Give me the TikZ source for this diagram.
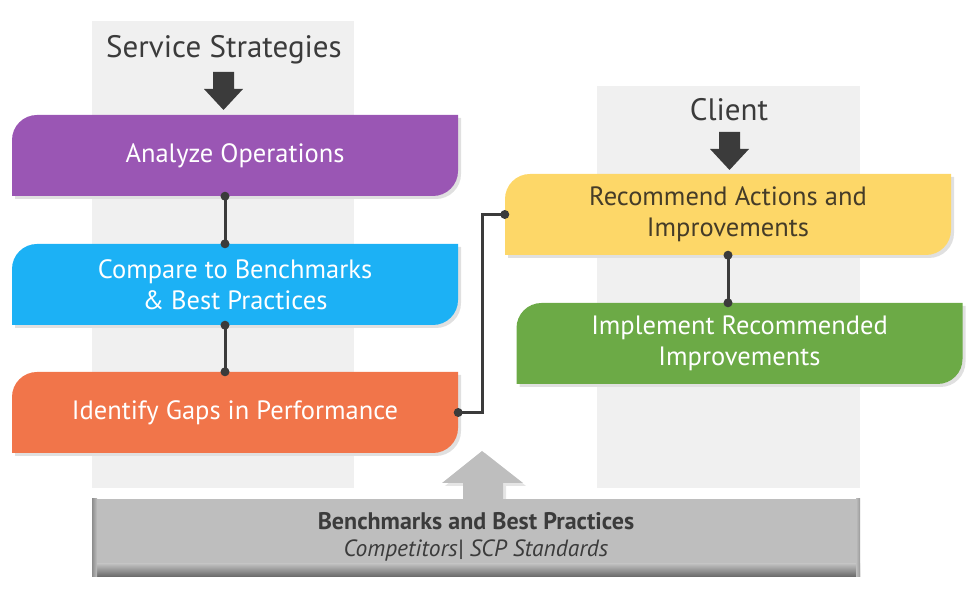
\documentclass[tikz,border=0pt]{standalone}
\usepackage{fontspec}
\setmainfont{PT Sans}
\usetikzlibrary{calc}
\definecolor{colbg}{HTML}{F0F0F0}
\definecolor{cpurple}{HTML}{9A56B4}
\definecolor{cblue}{HTML}{1CB1F5}
\definecolor{corange}{HTML}{F1754A}
\definecolor{cyellow}{HTML}{FDD768}
\definecolor{cgreen}{HTML}{6CAA46}
\definecolor{cdark}{HTML}{3B3B3B}
\definecolor{cbar}{HTML}{BEBEBE}
\definecolor{cytext}{HTML}{453C28}
\newcommand\blobpath[4]{(#1,#2) -- (#1,{#4-25}) arc[start angle=180,end angle=90,radius=25] -- (#3,#4) -- (#3,{#2+25}) arc[start angle=0,end angle=-90,radius=25] -- cycle}
% #1 name, #2 cx, #3 cy, #4 colour, #5 text colour, #6 text
\newcommand\stepbox[6]{%
  \fill[black!12] \blobpath{#2-223+3}{#3-40.5-3}{#2+223+3}{#3+40.5-3};
  \fill[#4] \blobpath{#2-223}{#3-40.5}{#2+223}{#3+40.5};
  \node[boxtext, text=#5] (#1) at (#2,#3) {#6};
}
\tikzset{
  boxtext/.style={minimum width=446pt, minimum height=81pt, inner sep=0pt, align=center,
    font=\fontsize{26.5}{31}\selectfont},
  conn/.style={draw=cdark, line width=3pt},
  dot/.style={fill=cdark},
  title/.style={text=cdark, font=\fontsize{31}{35}\selectfont, inner sep=0pt},
  blockarrow/.style={fill=cdark},
}
\begin{document}
\begin{tikzpicture}[x=1pt,y=1pt]
\useasboundingbox (0,0) rectangle (976,612);
% columns
\fill[colbg] (92,124) rectangle (354,591);
\fill[colbg] (597,124) rectangle (860,526);
% titles
\node[title] (tss) at (224,562) {Service Strategies};
\node[title] (tcl) at (729,502) {Client};
% block arrows
\fill[blockarrow] (213,540) -- (234,540) -- (234,523) -- (243,523) -- (223.5,502) -- (204,523) -- (213,523) -- cycle;
\fill[blockarrow] (719,480) -- (740,480) -- (740,463) -- (749,463) -- (729.5,442) -- (710,463) -- (719,463) -- cycle;
% boxes
\stepbox{ana}{235}{456.5}{cpurple}{white}{Analyze Operations}
\stepbox{cmp}{235}{327.5}{cblue}{white}{Compare to Benchmarks\\\& Best Practices}
\stepbox{gap}{235}{199.5}{corange}{white}{Identify Gaps in Performance}
\stepbox{rec}{728}{397.5}{cyellow}{cytext}{Recommend Actions and\\Improvements}
\stepbox{imp}{739.5}{268.5}{cgreen}{white}{Implement Recommended\\Improvements}
% connectors
\coordinate (a1) at ([xshift=-10pt]ana.south);
\coordinate (c1) at ([xshift=-10pt]cmp.north);
\coordinate (c2) at ([xshift=-10pt]cmp.south);
\coordinate (g1) at ([xshift=-10pt]gap.north);
\draw[conn] (a1) -- (c1);
\draw[conn] (c2) -- (g1);
\draw[conn] (gap.east) -- ++(24,0) |- (rec.west);
\draw[conn] (rec.south) -- (rec.south |- imp.north);
\foreach \p in {(a1),(c1),(c2),(g1),(gap.east),(rec.west),(rec.south),(rec.south |- imp.north)}
  \fill[dot] \p circle (4.5);
% up arrow
\fill[black!10] (466,112) -- (506,112) -- (506,126) -- (526,126) -- (485,159) -- (445,126) -- (466,126) -- cycle;
\fill[cbar] (463,113) -- (503,113) -- (503,129) -- (523,129) -- (482,161) -- (442,129) -- (463,129) -- cycle;
% bottom bar
\fill[cbar] (92,35) rectangle (860,113);
\shade[top color=cbar, bottom color=black!60] (92,35) rectangle (860,48);
\shade[left color=black!45, right color=cbar] (92,35) rectangle (97,113);
\shade[left color=cbar, right color=black!40] (856,35) rectangle (860,113);
\node[text=cdark, font=\fontsize{24}{28}\selectfont\bfseries, inner sep=0pt] (bb) at (476,91) {Benchmarks and Best Practices};
\node[text=cdark, font=\fontsize{23.5}{28}\selectfont\itshape, inner sep=0pt] (bs) at (476,62) {Competitors| SCP Standards};
\end{tikzpicture}
\end{document}
